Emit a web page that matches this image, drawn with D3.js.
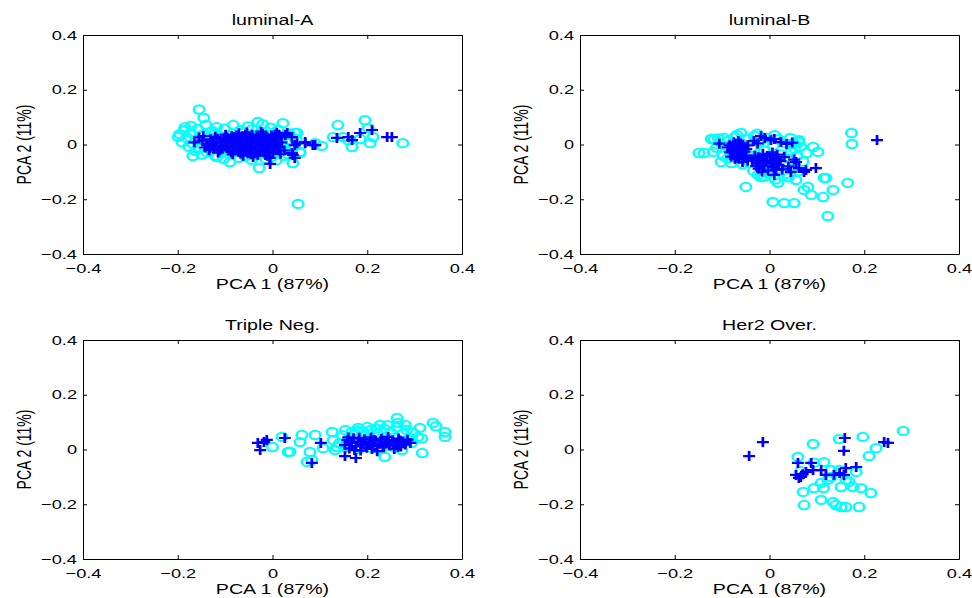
<!DOCTYPE html>
<html>
<head>
<meta charset="utf-8">
<script src="https://cdn.jsdelivr.net/npm/d3@7"></script>
<style>
  html, body { margin: 0; padding: 0; background: #fff; }
  svg { display: block; }
  text { font-family: "Liberation Sans", Arial, Helvetica, sans-serif; fill: #000; }
</style>
</head>
<body>
<svg id="chart" width="972" height="598"></svg>
<script>
// ---------------- DATA ----------------
const titles = ["luminal-A", "luminal-B", "Triple Neg.", "Her2 Over."];
const xLabel = "PCA 1 (87%)";
const yLabel = "PCA 2 (11%)";
const tickValues = [-0.4, -0.2, 0, 0.2, 0.4];
const tickLabels = ["\u22120.4", "\u22120.2", "0", "0.2", "0.4"];

// luminal-A : cyan circles
const lumA_o = [
  [-0.155,0.128],[-0.145,0.097],[-0.185,0.062],[-0.199,0.028],[-0.168,-0.042],[-0.117,-0.046],
  [-0.090,-0.064],[-0.031,0.082],[0.022,0.078],[-0.028,-0.086],[0.043,-0.068],[0.058,-0.027],
  [0.047,0.042],[0.104,-0.005],[0.128,0.027],[0.138,0.071],[0.054,-0.217],[0.195,0.089],
  [0.202,0.060],[0.206,0.005],[0.168,-0.009],[0.275,0.005],[0.052,0.042],[0.058,-0.031],
  [0.149,0.027],[0.212,0.027],[0.160,0.015],[0.185,0.020],[0.090,0.005],[0.035,0.040],[0.050,0.020],
  [-0.172,0.068],[-0.141,0.072],[-0.118,0.063],[-0.083,0.071],[-0.052,0.066],[-0.021,0.074],[-0.004,0.061],
  [-0.186,0.051],[-0.158,0.057],[-0.127,0.049],[-0.101,0.058],[-0.068,0.052],[-0.043,0.056],[-0.012,0.047],[0.012,0.054],
  [-0.196,0.038],[-0.173,0.043],[-0.148,0.036],[-0.122,0.041],[-0.093,0.034],[-0.061,0.043],[-0.031,0.037],[0.002,0.041],[0.027,0.033],
  [-0.181,0.024],[-0.162,0.019],[-0.133,0.027],[-0.107,0.021],[-0.074,0.028],[-0.047,0.018],[-0.016,0.026],[0.017,0.022],[0.038,0.015],
  [-0.191,0.008],[-0.168,0.003],[-0.144,0.012],[-0.112,0.006],[-0.087,0.011],[-0.053,0.004],[-0.026,0.009],[0.006,0.002],[0.031,0.007],[0.046,-0.004],
  [-0.177,-0.008],[-0.153,-0.013],[-0.128,-0.004],[-0.096,-0.011],[-0.066,-0.006],[-0.034,-0.014],[-0.007,-0.003],[0.022,-0.012],[0.041,-0.018],
  [-0.163,-0.024],[-0.138,-0.029],[-0.109,-0.019],[-0.079,-0.027],[-0.048,-0.022],[-0.019,-0.031],[0.012,-0.024],[0.033,-0.036],
  [-0.149,-0.037],[-0.121,-0.041],[-0.092,-0.036],[-0.058,-0.044],[-0.031,-0.039],[-0.002,-0.046],[0.024,-0.041],
  [-0.103,-0.052],[-0.071,-0.049],[-0.044,-0.056],[-0.014,-0.053],[0.008,-0.058]
];
// luminal-A : blue crosses
const lumA_p = [
  [-0.155,0.026],[-0.165,0.008],[-0.148,0.014],[-0.139,0.002],[-0.131,0.019],[-0.142,-0.011],[-0.126,-0.006],
  [-0.118,0.012],[-0.121,0.028],[-0.109,-0.017],[-0.111,0.004],[-0.103,0.023],[-0.097,-0.004],[-0.094,0.011],
  [-0.089,-0.022],[-0.086,0.031],[-0.081,0.006],[-0.078,-0.012],[-0.074,0.019],[-0.069,-0.027],[-0.066,0.002],
  [-0.063,0.028],[-0.059,-0.015],[-0.056,0.013],[-0.052,-0.031],[-0.049,0.024],[-0.046,-0.004],[-0.043,0.036],
  [-0.039,-0.021],[-0.037,0.009],[-0.033,0.027],[-0.031,-0.037],[-0.028,-0.009],[-0.025,0.017],[-0.021,0.039],
  [-0.019,-0.026],[-0.016,0.003],[-0.013,0.028],[-0.011,-0.041],[-0.008,-0.014],[-0.005,0.014],[-0.002,0.033],
  [0.001,-0.029],[0.004,0.002],[0.007,0.021],[0.011,-0.011],[0.014,0.036],[0.017,-0.034],[0.019,0.008],
  [-0.134,-0.021],[-0.115,-0.029],[-0.099,0.036],[-0.084,-0.036],[-0.071,0.041],[-0.062,-0.041],[-0.054,0.044],
  [-0.041,-0.046],[-0.024,0.047],[-0.006,-0.049],[0.009,0.043],[-0.146,0.031],[-0.072,0.012],[-0.061,-0.004],
  [-0.047,0.016],[-0.035,-0.008],[-0.018,0.021],[-0.009,0.006],[0.002,-0.008],[-0.077,0.025],[-0.091,0.019],
  [-0.104,0.007],[-0.026,-0.018],[-0.014,-0.002],[-0.052,0.006],
  [-0.128,0.009],[-0.123,-0.015],[-0.116,0.021],[-0.106,-0.008],[-0.101,0.015],[-0.093,-0.014],[-0.088,0.003],
  [-0.083,0.022],[-0.079,-0.005],[-0.073,-0.018],[-0.068,0.021],[-0.064,-0.009],[-0.058,0.005],[-0.055,-0.022],
  [-0.051,0.031],[-0.048,-0.012],[-0.044,0.008],[-0.041,0.023],[-0.038,-0.031],[-0.034,0.016],[-0.029,0.004],
  [-0.027,-0.027],[-0.023,0.031],[-0.020,-0.006],[-0.017,0.012],[-0.012,-0.021],[-0.010,0.021],[-0.006,-0.031],
  [-0.003,0.008],[0.000,0.024],[0.003,-0.018],[0.006,0.011],[0.009,-0.002],[0.012,0.027],[-0.137,-0.003],
  [-0.132,-0.012],[-0.112,-0.021],[-0.096,0.026],[-0.087,-0.028],[-0.057,0.036],[-0.045,-0.036],[-0.015,-0.038],
  [0.005,0.036],[0.015,-0.022],[-0.067,-0.033],[-0.076,0.033],
  [0.027,0.035],[0.031,0.042],[0.047,-0.002],[0.069,0.009],[0.090,-0.002],[0.041,-0.031],[0.047,-0.049],
  [-0.005,-0.071],[0.136,0.024],[0.160,0.027],[0.168,0.016],[0.185,0.042],[0.210,0.053],[0.242,0.027],
  [0.252,0.027],[0.052,0.005],[0.069,0.005],[0.085,-0.002],[0.041,0.027],[0.043,-0.038],[0.025,-0.022]
];

// luminal-B : cyan circles
const lumB_o = [
  [0.173,0.042],[0.174,0.002],[0.062,0.009],[0.092,-0.009],[0.102,-0.027],[0.119,-0.122],[0.165,-0.140],
  [0.134,-0.166],[0.113,-0.192],[0.088,-0.184],[0.073,-0.166],[0.123,-0.261],[0.052,-0.214],[0.031,-0.214],
  [0.007,-0.210],[-0.050,-0.155],[-0.149,-0.031],[-0.138,-0.031],[-0.119,-0.027],[-0.117,0.020],[-0.060,0.042],
  [-0.096,0.024],[0.018,-0.140],[0.012,-0.128],[-0.018,-0.119],[-0.102,-0.064],[-0.081,-0.068],[0.056,-0.130],
  [-0.123,0.020],[-0.108,0.022],[0.062,0.016],[0.045,-0.027],[0.081,-0.155],[0.115,-0.122],[-0.024,-0.111],
  [-0.012,-0.118],[0.040,-0.120],[0.050,0.005],
  [-0.105,0.008],[-0.092,-0.006],[-0.098,-0.041],[-0.086,0.014],[-0.079,-0.024],[-0.073,0.027],[-0.066,-0.052],
  [-0.061,0.006],[-0.054,-0.031],[-0.049,0.021],[-0.043,-0.067],[-0.038,-0.012],[-0.032,0.031],[-0.027,-0.044],
  [-0.021,0.011],[-0.016,-0.082],[-0.011,-0.023],[-0.006,0.024],[0.002,-0.058],[0.008,-0.004],[0.013,-0.094],
  [0.019,0.019],[0.024,-0.036],[0.029,-0.072],[0.034,0.004],[0.041,-0.051],[0.047,-0.088],[0.053,-0.016],
  [0.058,-0.041],[0.066,-0.008],[0.071,-0.062],[0.078,-0.031],[-0.088,-0.051],[-0.057,-0.072],[-0.034,-0.096],
  [-0.003,-0.104],[0.036,-0.107],[0.062,-0.098],[-0.112,-0.012],[-0.069,0.035],[-0.026,0.039],[0.011,0.034],[0.044,0.024]
];
// luminal-B : blue crosses
const lumB_p = [
  [-0.106,0.003],[-0.084,-0.003],[-0.079,-0.021],[-0.075,0.008],[-0.071,-0.036],[-0.068,-0.012],[-0.064,-0.052],
  [-0.061,0.004],[-0.058,-0.027],[-0.055,-0.008],[-0.052,-0.041],[-0.049,-0.017],[-0.046,-0.059],[-0.081,-0.044],
  [-0.066,0.013],[-0.057,-0.064],[-0.088,-0.011],[-0.063,-0.031],[-0.073,-0.052],[-0.046,-0.003],[-0.077,-0.007],
  [-0.059,-0.016],[-0.083,-0.029],[-0.069,-0.044],[-0.062,-0.021],[-0.053,-0.026],[-0.071,0.001],[-0.050,-0.050],
  [-0.033,0.013],[-0.018,0.031],[-0.010,0.024],[0.003,0.016],[0.010,0.020],[0.024,0.009],[0.036,0.002],
  [0.048,0.007],[-0.025,0.004],
  [-0.031,-0.041],[-0.027,-0.066],[-0.023,-0.088],[-0.019,-0.052],[-0.014,-0.034],[-0.011,-0.077],[-0.007,-0.059],
  [-0.003,-0.095],[0.001,-0.044],[0.004,-0.069],[0.008,-0.083],[0.012,-0.051],[0.016,-0.037],[0.019,-0.074],
  [0.023,-0.061],[0.027,-0.091],[0.031,-0.046],[-0.028,-0.078],[-0.016,-0.099],[0.006,-0.029],[-0.021,-0.069],
  [0.014,-0.092],[-0.036,-0.058],[-0.005,-0.042],[-0.013,-0.063],[0.009,-0.066],[-0.024,-0.047],[0.018,-0.057],
  [0.056,-0.064],[0.062,-0.086],[0.077,-0.093],[0.098,-0.086],[0.010,-0.111],[0.045,-0.100],[0.073,-0.100],
  [0.052,-0.055],[0.227,0.016],[0.040,-0.080]
];

// Triple Neg. : cyan circles
const tneg_o = [
  [0.000,0.009],[0.020,0.046],[0.033,-0.009],[0.058,0.027],[0.062,0.053],[0.090,0.053],[0.107,0.005],
  [0.079,-0.009],[0.083,-0.038],[0.073,-0.045],[0.126,0.064],[0.128,0.035],[0.136,0.009],[0.132,-0.002],
  [0.263,0.115],[0.265,0.097],[0.280,0.090],[0.311,0.079],[0.339,0.097],[0.345,0.085],[0.364,0.064],
  [0.364,0.046],[0.316,-0.013],[0.237,-0.027],[0.273,-0.002],[0.307,0.046],[0.315,0.040],[0.294,0.024],
  [0.227,0.090],[0.200,0.082],[0.181,0.079],[0.168,0.064],[0.210,0.005],[0.153,0.009],[0.160,0.035],
  [0.175,0.055],[0.037,-0.008],
  [0.148,0.052],[0.156,0.018],[0.163,0.043],[0.171,0.027],[0.178,0.068],[0.186,0.012],[0.193,0.049],
  [0.199,0.031],[0.207,0.071],[0.214,0.021],[0.221,0.058],[0.228,0.039],[0.236,0.076],[0.243,0.014],
  [0.249,0.063],[0.256,0.044],[0.262,0.081],[0.268,0.027],[0.275,0.058],[0.283,0.071],[0.289,0.041],
  [0.296,0.062],[0.243,0.089],[0.219,0.077],[0.191,0.066],[0.258,0.009],[0.226,0.002],[0.182,0.002],
  [0.141,0.022],[0.154,0.071]
];
// Triple Neg. : blue crosses
const tneg_p = [
  [-0.031,0.024],[-0.012,0.035],[-0.026,-0.002],[-0.018,0.027],[0.026,0.042],[0.102,0.024],[0.083,-0.049],
  [0.153,-0.024],[0.176,-0.031],
  [0.153,0.016],[0.158,0.034],[0.162,0.004],[0.167,0.024],[0.171,0.041],[0.176,0.011],[0.181,0.029],
  [0.186,-0.004],[0.190,0.019],[0.194,0.037],[0.199,0.006],[0.203,0.026],[0.208,0.044],[0.212,0.013],
  [0.217,0.031],[0.221,-0.006],[0.226,0.021],[0.230,0.039],[0.235,0.008],[0.239,0.027],[0.244,0.046],
  [0.248,0.015],[0.253,0.033],[0.257,0.002],[0.262,0.022],[0.266,0.040],[0.271,0.011],[0.275,0.029],
  [0.280,0.018],[0.285,0.036],[0.197,0.016],[0.228,0.030],[0.246,0.023],[0.183,0.043],[0.210,0.002],
  [0.265,0.009],[0.160,0.044],[0.173,-0.002],[0.291,0.024],[0.187,0.022],[0.215,0.036],[0.233,0.015],
  [0.255,0.028],[0.270,0.033],[0.205,0.019]
];

// Her2 Over. : cyan circles
const her2_o = [
  [0.092,0.020],[0.147,0.038],[0.197,0.046],[0.225,0.005],[0.210,-0.024],[0.060,-0.027],[0.115,-0.046],
  [0.094,-0.048],[0.147,-0.075],[0.183,-0.082],[0.130,-0.075],[0.066,-0.079],[0.123,-0.111],[0.109,-0.122],
  [0.094,-0.141],[0.114,-0.141],[0.071,-0.155],[0.151,-0.137],[0.176,-0.137],[0.193,-0.141],[0.214,-0.159],
  [0.161,-0.111],[0.168,-0.118],[0.109,-0.184],[0.134,-0.192],[0.140,-0.203],[0.151,-0.210],[0.161,-0.210],
  [0.189,-0.210],[0.073,-0.203],[0.130,-0.100],[0.282,0.068]
];
// Her2 Over. : blue crosses
const her2_p = [
  [-0.014,0.027],[-0.043,-0.024],[0.159,0.042],[0.157,-0.005],[0.060,-0.049],[0.088,-0.049],[0.109,-0.075],
  [0.056,-0.093],[0.066,-0.100],[0.077,-0.082],[0.136,-0.093],[0.161,-0.068],[0.183,-0.064],[0.157,-0.093],
  [0.250,0.024],[0.242,0.027],[0.119,-0.093],[0.092,-0.075],[0.062,-0.104],[0.070,-0.090],[0.148,-0.086]
];

// ---------------- LAYOUT ----------------
const circles = [lumA_o, lumB_o, tneg_o, her2_o];
const pluses = [lumA_p, lumB_p, tneg_p, her2_p];
const origins = [[83, 35], [580, 35], [83, 340], [580, 340]];
const PW = 379, PH = 219;
const STRETCH = 1.4;

const svg = d3.select("#chart");

origins.forEach(([left, top], i) => {
  const x = d3.scaleLinear().domain([-0.4, 0.4]).range([left, left + PW]);
  const y = d3.scaleLinear().domain([-0.4, 0.4]).range([top + PH, top]);
  const g = svg.append("g");

  const fmt = d => tickLabels[tickValues.indexOf(d)];

  g.append("g").attr("class", "ax")
    .attr("transform", `translate(0,${top + PH})`)
    .call(d3.axisBottom(x).tickValues(tickValues).tickFormat(fmt).tickSizeInner(-4).tickSizeOuter(0).tickPadding(10));
  g.append("g").attr("class", "ax")
    .attr("transform", `translate(0,${top})`)
    .call(d3.axisTop(x).tickValues(tickValues).tickFormat("").tickSizeInner(-4).tickSizeOuter(0));
  g.append("g").attr("class", "ax")
    .attr("transform", `translate(${left},0)`)
    .call(d3.axisLeft(y).tickValues(tickValues).tickFormat(fmt).tickSizeInner(-4).tickSizeOuter(0).tickPadding(6));
  g.append("g").attr("class", "ax")
    .attr("transform", `translate(${left + PW},0)`)
    .call(d3.axisRight(y).tickValues(tickValues).tickFormat("").tickSizeInner(-4).tickSizeOuter(0));

  g.selectAll(".ax path, .ax line").attr("stroke", "#000").attr("stroke-width", 1);
  g.selectAll(".ax text").attr("font-size", 13).attr("class", "stretch")
    .style("font-family", '"Liberation Sans", Arial, sans-serif');

  // markers: cyan circles then blue crosses
  g.append("g").selectAll("circle").data(circles[i]).join("circle")
    .attr("transform", d => `translate(${x(d[0])},${y(d[1])}) scale(1.25,1)`)
    .attr("r", 4.2)
    .attr("fill", "none")
    .attr("stroke", "#00ffff")
    .attr("stroke-width", 2);

  g.append("g").selectAll("path").data(pluses[i]).join("path")
    .attr("transform", d => `translate(${x(d[0])},${y(d[1])}) scale(1.25,1)`)
    .attr("d", "M-4.8,0H4.8M0,-5V5")
    .attr("fill", "none")
    .attr("stroke", "#0000ff")
    .attr("stroke-width", 2.2);

  // title
  g.append("text").attr("class", "stretch")
    .attr("x", left + PW / 2).attr("y", top - 10)
    .attr("text-anchor", "middle").attr("font-size", 14)
    .text(titles[i]);

  // x label
  g.append("text").attr("class", "stretch")
    .attr("x", left + PW / 2).attr("y", top + PH + 35)
    .attr("text-anchor", "middle").attr("font-size", 14)
    .text(xLabel);

  // y label
  g.append("text")
    .attr("transform", `translate(${left - 52},${top + PH / 2}) scale(${STRETCH},1) rotate(-90)`)
    .attr("text-anchor", "middle").attr("font-size", 14)
    .text(yLabel);
});

// horizontal stretch of horizontal text
svg.selectAll("text.stretch").each(function () {
  const len = this.getComputedTextLength();
  d3.select(this).attr("textLength", len * STRETCH).attr("lengthAdjust", "spacingAndGlyphs");
});
</script>
</body>
</html>
